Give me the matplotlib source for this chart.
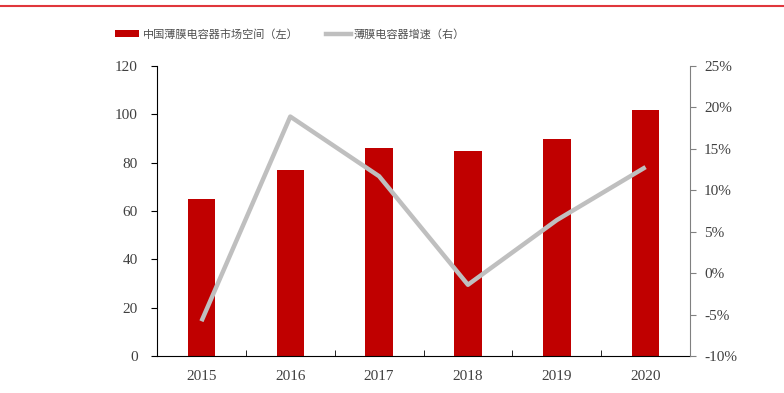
import matplotlib
matplotlib.use('Agg')
import matplotlib.pyplot as plt
from matplotlib.patches import Patch
from matplotlib.lines import Line2D
from matplotlib.ticker import FixedLocator, PercentFormatter

plt.rcParams['font.family'] = ['Liberation Serif', 'Noto Sans CJK SC']
plt.rcParams['axes.unicode_minus'] = False

years = ['2015', '2016', '2017', '2018', '2019', '2020']
market = [65, 77, 86, 85, 90, 102]
growth = [-5.8, 18.9, 11.7, -1.4, 6.4, 12.8]

bar_color = '#C00000'
line_color = '#BFBFBF'
text_color = '#404040'

fig = plt.figure(figsize=(7.84, 3.93), dpi=100)
ax = fig.add_axes([0.2003, 0.0941, 0.6798, 0.7379])
x = list(range(len(years)))
ax.bar(x, market, width=0.31, color=bar_color, zorder=2)
ax.set_xlim(-0.5, len(years) - 0.5)
ax.set_ylim(0, 120)
ax.set_yticks(range(0, 121, 20))
ax.set_xticks(x)
ax.set_xticklabels(years)
ax.xaxis.set_minor_locator(FixedLocator([i + 0.5 for i in range(len(years) - 1)]))
ax.tick_params(axis='x', which='major', length=0, pad=10, labelsize=11, labelcolor=text_color)
ax.tick_params(axis='x', which='minor', direction='in', length=4, color='black')
ax.tick_params(axis='y', direction='out', length=4, labelsize=11, labelcolor=text_color, pad=10)
for s in ['top', 'right']:
    ax.spines[s].set_visible(False)
ax.spines['left'].set_color('black')
ax.spines['bottom'].set_color('black')

ax2 = ax.twinx()
ax2.plot(x, growth, color=line_color, linewidth=3.2, solid_capstyle='butt', zorder=3)
ax2.set_ylim(-10, 25)
ax2.set_yticks(range(-10, 26, 5))
ax2.yaxis.set_major_formatter(PercentFormatter(decimals=0))
ax2.tick_params(axis='y', direction='out', length=4, color='#808080', labelsize=11, labelcolor=text_color, pad=6)
for s in ['top', 'left', 'bottom']:
    ax2.spines[s].set_visible(False)
ax2.spines['right'].set_color('#808080')

handles = [Patch(facecolor=bar_color, edgecolor='none'),
           Line2D([0], [0], color=line_color, linewidth=3.2)]
labels = ['中国薄膜电容器市场空间（左）', '薄膜电容器增速（右）']
fig.legend(handles, labels, loc='center', bbox_to_anchor=(0.37, 0.913), ncol=2, frameon=False,
           prop={'family': ['Noto Sans CJK SC'], 'size': 8}, labelcolor='#505050',
           handlelength=2.2, handleheight=0.6, handletextpad=0.3, columnspacing=2.5)

fig.add_artist(Line2D([0, 1], [0.985, 0.985], color='#E0363C', linewidth=1.5, transform=fig.transFigure))

fig.savefig('out.png', dpi=100)
